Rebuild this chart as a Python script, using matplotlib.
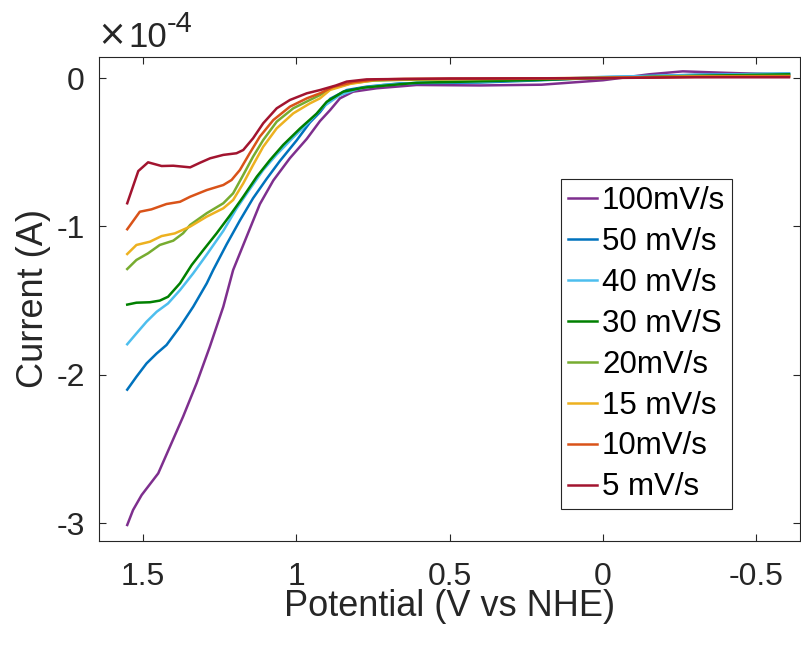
import numpy as np
import matplotlib
matplotlib.use('Agg')
import matplotlib.pyplot as plt

plt.rcParams['font.family'] = ['Liberation Sans', 'DejaVu Sans']
plt.rcParams['axes.unicode_minus'] = False

# SCAN RATE LABELS AND MATLAB COLOURS
labels = ['100mV/s', '50 mV/s', '40 mV/s', '30 mV/S', '20mV/s', '15 mV/s', '10mV/s', '5 mV/s']
colors = ['#7E2F8E', '#0072BD', '#4DBEEE', '#008000', '#77AC30', '#EDB120', '#D95319', '#A2142F']

# POTENTIAL (V vs NHE) AND CURRENT (x 1e-4 A)
v_100 = [1.550, 1.531, 1.503, 1.449, 1.411, 1.368, 1.324, 1.281, 1.237, 1.205, 1.161, 1.118, 1.074,
         1.020, 0.965, 0.922, 0.889, 0.857, 0.814, 0.737, 0.607, 0.4, 0.2, 0.0, -0.15, -0.26, -0.4, -0.606]
i_100 = [-3.012, -2.911, -2.810, -2.664, -2.485, -2.282, -2.057, -1.811, -1.541, -1.294, -1.069, -0.850, -0.690,
         -0.540, -0.410, -0.290, -0.216, -0.137, -0.092, -0.069, -0.047, -0.050, -0.045, -0.015, 0.025, 0.045, 0.035, 0.022]

v_50 = [1.550, 1.520, 1.487, 1.454, 1.422, 1.378, 1.335, 1.291, 1.270, 1.226, 1.183, 1.140, 1.096,
        1.053, 0.998, 0.955, 0.922, 0.889, 0.835, 0.770, 0.661, 0.4, 0.2, 0.0, -0.3, -0.606]
i_50 = [-2.100, -2.013, -1.923, -1.856, -1.799, -1.676, -1.541, -1.384, -1.294, -1.120, -0.960, -0.810, -0.680,
        -0.560, -0.420, -0.300, -0.230, -0.140, -0.081, -0.058, -0.036, -0.030, -0.015, 0.005, 0.022, 0.030]

v_40 = [1.550, 1.520, 1.487, 1.454, 1.417, 1.378, 1.335, 1.291, 1.237, 1.194, 1.151, 1.107, 1.063,
        1.009, 0.955, 0.911, 0.857, 0.792, 0.716, 0.607, 0.4, 0.2, 0.0, -0.3, -0.606]
i_40 = [-1.794, -1.721, -1.642, -1.575, -1.519, -1.429, -1.316, -1.190, -1.030, -0.880, -0.750, -0.620, -0.515,
        -0.400, -0.290, -0.193, -0.115, -0.069, -0.047, -0.032, -0.025, -0.010, 0.008, 0.020, 0.030]

v_30 = [1.550, 1.520, 1.476, 1.444, 1.417, 1.378, 1.340, 1.302, 1.259, 1.215, 1.172, 1.128, 1.085,
        1.042, 0.987, 0.933, 0.900, 0.846, 0.781, 0.716, 0.607, 0.4, 0.2, 0.0, -0.3, -0.606]
i_30 = [-1.527, -1.514, -1.511, -1.500, -1.474, -1.383, -1.260, -1.159, -1.047, -0.925, -0.800, -0.665, -0.553,
        -0.451, -0.340, -0.240, -0.160, -0.092, -0.065, -0.052, -0.032, -0.022, -0.012, 0.0, 0.015, 0.025]

v_20 = [1.550, 1.520, 1.482, 1.444, 1.400, 1.368, 1.345, 1.291, 1.237, 1.205, 1.172, 1.140, 1.107,
        1.063, 1.009, 0.955, 0.922, 0.890, 0.820, 0.750, 0.65, 0.4, 0.0, -0.3, -0.606]
i_20 = [-1.287, -1.226, -1.181, -1.125, -1.096, -1.046, -0.990, -0.911, -0.844, -0.777, -0.653, -0.530, -0.418,
        -0.294, -0.204, -0.148, -0.115, -0.075, -0.035, -0.018, -0.012, -0.008, 0.0, 0.012, 0.015]

v_15 = [1.550, 1.520, 1.476, 1.438, 1.395, 1.345, 1.291, 1.237, 1.205, 1.172, 1.140, 1.107, 1.063,
        1.009, 0.955, 0.922, 0.889, 0.824, 0.748, 0.65, 0.4, 0.0, -0.3, -0.606]
i_15 = [-1.186, -1.125, -1.103, -1.065, -1.047, -1.001, -0.934, -0.878, -0.822, -0.710, -0.586, -0.463, -0.339,
        -0.238, -0.171, -0.137, -0.080, -0.040, -0.015, -0.008, -0.006, 0.002, 0.010, 0.012]

v_10 = [1.550, 1.509, 1.471, 1.422, 1.378, 1.345, 1.291, 1.237, 1.210, 1.183, 1.151, 1.118, 1.074,
        1.020, 0.965, 0.922, 0.879, 0.814, 0.737, 0.65, 0.4, 0.0, -0.3, -0.606]
i_10 = [-1.019, -0.901, -0.885, -0.849, -0.834, -0.800, -0.755, -0.721, -0.687, -0.620, -0.507, -0.395, -0.283,
        -0.193, -0.137, -0.103, -0.060, -0.028, -0.010, -0.006, -0.005, 0.0, 0.008, 0.010]

v_5 = [1.550, 1.514, 1.482, 1.438, 1.400, 1.345, 1.313, 1.280, 1.237, 1.194, 1.172, 1.140, 1.107,
       1.063, 1.020, 0.965, 0.922, 0.870, 0.835, 0.770, 0.5, 0.2, 0.0, -0.3, -0.606]
i_5 = [-0.844, -0.627, -0.568, -0.593, -0.591, -0.602, -0.571, -0.541, -0.518, -0.507, -0.485, -0.406, -0.305,
       -0.204, -0.148, -0.103, -0.081, -0.050, -0.024, -0.009, -0.003, -0.002, 0.0, 0.005, 0.005]

potentials = [v_100, v_50, v_40, v_30, v_20, v_15, v_10, v_5]
currents = [i_100, i_50, i_40, i_30, i_20, i_15, i_10, i_5]

fig = plt.figure(figsize=(8.01, 6.48), dpi=100)
ax = fig.add_axes([0.1232, 0.1651, 0.8756, 0.7477])

for v, i, c, lab in zip(potentials, currents, colors, labels):
    ax.plot(v, np.array(i) * 1e-4, color=c, lw=1.8, label=lab, solid_joinstyle='round')

ax.set_xlim(1.643, -0.642)
ax.set_ylim(-3.12e-4, 0.145e-4)
ax.set_xticks([1.5, 1, 0.5, 0, -0.5])
ax.set_xticklabels(['1.5', '1', '0.5', '0', '-0.5'])
ax.set_yticks([-3e-4, -2e-4, -1e-4, 0])
ax.set_yticklabels(['-3', '-2', '-1', '0'])

axis_col = '#262626'
for s in ax.spines.values():
    s.set_color(axis_col)
    s.set_linewidth(0.8)
ax.tick_params(direction='in', length=5, width=0.8, colors=axis_col, labelsize=23,
               top=True, right=True)
ax.tick_params(axis='x', pad=15)
ax.tick_params(axis='y', pad=10)

ax.set_xlabel('Potential (V vs NHE)', fontsize=26, color=axis_col, labelpad=-2)
ax.set_ylabel('Current (A)', fontsize=26, color=axis_col, labelpad=4)

# EXPONENT LABEL LIKE MATLAB
fig.text(0.122, 0.930, '\u00d7', fontsize=25, color=axis_col, ha='left', va='baseline',
         family=['DejaVu Sans'])
fig.text(0.160, 0.928, '10', fontsize=25, color=axis_col, ha='left', va='baseline')
fig.text(0.2085, 0.950, '-4', fontsize=21, color=axis_col, ha='left', va='baseline')

leg = ax.legend(loc='upper right', bbox_to_anchor=(732 / 801, 1 - 179 / 648),
                bbox_transform=fig.transFigure, borderaxespad=0, fontsize=22.5,
                handlelength=0.95, handletextpad=0.15, labelspacing=0.35,
                borderpad=0.22, fancybox=False, framealpha=1)
leg.get_frame().set_edgecolor(axis_col)
leg.get_frame().set_linewidth(0.8)

fig.savefig('out.png', dpi=100)
